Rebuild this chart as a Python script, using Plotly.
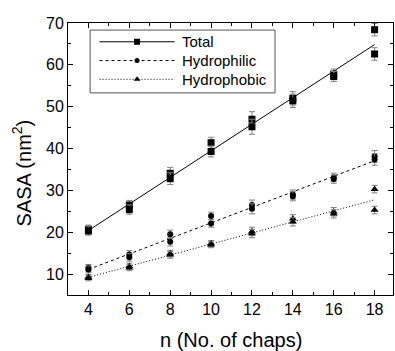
import numpy as np
import plotly.graph_objects as go

# ---- data ----
n_chaps = [4, 6, 8, 10, 12, 14, 16, 18]
total_a = [20.7, 26.5, 34.1, 41.4, 47.0, 52.0, 57.8, 68.4]
total_b = [20.3, 25.4, 32.8, 39.3, 45.2, 51.4, 57.2, 62.6]
total_err = [1.0, 1.1, 1.4, 1.3, 1.8, 1.6, 1.2, 1.5]
hphil_a = [11.5, 14.7, 19.5, 23.9, 26.5, 29.0, 33.1, 38.1]
hphil_b = [11.1, 14.0, 17.7, 22.1, 25.6, 28.6, 32.7, 37.4]
hphil_err = [0.8, 0.9, 1.0, 0.9, 1.2, 1.1, 1.0, 1.4]
hphob_a = [9.3, 11.9, 14.9, 17.3, 20.2, 23.2, 24.9, 30.3]
hphob_b = [9.0, 11.5, 14.6, 17.0, 19.7, 22.5, 24.4, 25.3]
hphob_err = [0.6, 0.7, 0.8, 0.7, 1.0, 1.0, 1.0, 0.9]
series_names = ["Total", "Hydrophilic", "Hydrophobic"]

styles = [("square", 7, "solid"), ("circle", 6, "3px,3px"), ("triangle-up", 7, "1px,2px")]
values = [(total_a, total_b, total_err), (hphil_a, hphil_b, hphil_err),
          (hphob_a, hphob_b, hphob_err)]

fig = go.Figure()
FONT = "Liberation Sans, Arial, sans-serif"

for name, (ya, yb, err), (sym, size, dash) in zip(series_names, values, styles):
    xs = np.array(n_chaps + n_chaps, dtype=float)
    ys = np.array(ya + yb, dtype=float)
    k, b0 = np.polyfit(xs, ys, 1)
    xf = np.array([n_chaps[0], n_chaps[-1]], dtype=float)
    fig.add_trace(go.Scatter(x=xf, y=k * xf + b0, mode="lines",
                             line=dict(color="black", width=1, dash=dash),
                             showlegend=False, hoverinfo="skip"))
    for yy in (ya, yb):
        fig.add_trace(go.Scatter(
            x=n_chaps, y=yy, mode="markers", name=name,
            marker=dict(symbol=sym, size=size, color="black"),
            error_y=dict(type="data", array=err, color="#808080",
                         thickness=1, width=3),
            showlegend=False))

# ---- hand-built legend (plot-area fractions) ----
box_x0, box_x1, box_y0, box_y1 = 0.068, 0.637, 0.743, 0.974
row_y = [0.931, 0.862, 0.793]
line_x0, line_x1, mark_x, text_x = 0.097, 0.328, 0.2125, 0.345
fig.add_shape(type="rect", xref="paper", yref="paper",
              x0=box_x0, x1=box_x1, y0=box_y0, y1=box_y1,
              line=dict(color="#555", width=1), fillcolor="white", layer="below")
for name, (sym, size, dash), ry in zip(series_names, styles, row_y):
    fig.add_shape(type="line", xref="paper", yref="paper",
                  x0=line_x0, x1=line_x1, y0=ry, y1=ry,
                  line=dict(color="black", width=1, dash=dash), layer="below")
    fig.add_trace(go.Scatter(x=[mark_x], y=[ry], xaxis="x2", yaxis="y2",
                             mode="markers", showlegend=False, hoverinfo="skip",
                             marker=dict(symbol=sym, size=size - 1, color="black")))
    fig.add_annotation(x=text_x, y=ry, xref="paper", yref="paper", text=name,
                       showarrow=False, xanchor="left", yanchor="middle",
                       font=dict(family=FONT, size=15, color="black"))

axis_common = dict(
    showline=True, linecolor="black", linewidth=1, mirror="ticks",
    ticks="inside", ticklen=5, tickwidth=1, tickcolor="black",
    showgrid=False, zeroline=False,
    tickfont=dict(family=FONT, size=16, color="black"),
)

fig.update_layout(
    xaxis=dict(range=[3, 18.9], tick0=4, dtick=2,
               minor=dict(dtick=1, ticks="inside", ticklen=3, tickcolor="black"),
               **axis_common),
    yaxis=dict(range=[5, 70], tick0=0, dtick=10,
               minor=dict(dtick=5, ticks="inside", ticklen=3, tickcolor="black"),
               **axis_common),
    xaxis2=dict(overlaying="x", range=[0, 1], visible=False, anchor="y2"),
    yaxis2=dict(overlaying="y", range=[0, 1], visible=False, anchor="x2"),
)

fig.add_annotation(text="n (No. of chaps)", xref="paper", yref="paper",
                   x=0.5, y=-0.165, showarrow=False, xanchor="center", yanchor="middle",
                   font=dict(family=FONT, size=20, color="black"))
fig.add_annotation(text="SASA (nm<sup>2</sup>)", xref="paper", yref="paper",
                   x=-0.142, y=0.45, showarrow=False, textangle=-90,
                   xanchor="center", yanchor="middle",
                   font=dict(family=FONT, size=20, color="black"))

fig.update_layout(
    width=395, height=351,
    margin=dict(l=68, r=2, t=23, b=56),
    paper_bgcolor="white", plot_bgcolor="white",
    font=dict(family=FONT, color="black"),
    showlegend=False,
)

fig.write_html("out.html")
